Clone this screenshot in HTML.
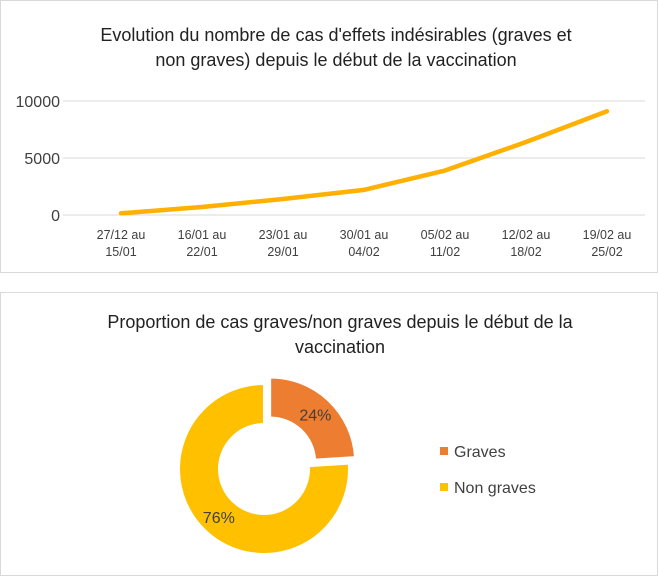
<!DOCTYPE html>
<html><head><meta charset="utf-8"><style>
body{margin:0;background:#fff;width:658px;height:577px;overflow:hidden;font-family:"Liberation Sans",sans-serif;}
svg text{font-family:"Liberation Sans",sans-serif;}
</style></head><body>
<svg id="s" width="658" height="577">
<rect x="0.5" y="0.5" width="657" height="272" fill="#fff" stroke="#d9d9d9"/>
<rect x="0.5" y="292.5" width="657" height="283" fill="#fff" stroke="#d9d9d9"/>
<g font-size="18" fill="#222" text-anchor="middle">
<text x="336" y="41">Evolution du nombre de cas d'effets indésirables (graves et</text>
<text x="336" y="66">non graves) depuis le début de la vaccination</text></g>
<g id="grid"></g><g id="xl"></g><g id="line"></g>
<g font-size="18" fill="#222" text-anchor="middle">
<text x="340" y="328">Proportion de cas graves/non graves depuis le début de la</text>
<text x="340" y="353">vaccination</text></g>
<g id="donut"></g>
<g id="legend"></g>
</svg>
<script>
const categories=[["27/12 au","15/01"],["16/01 au","22/01"],["23/01 au","29/01"],["30/01 au","04/02"],["05/02 au","11/02"],["12/02 au","18/02"],["19/02 au","25/02"]];
const cases=[150,700,1400,2200,3900,6400,9100];
const yTicks=[0,5000,10000];
const sliceLabels=["Graves","Non graves"];
const sliceValues=[24,76];
const sliceColors=["#ed7d31","#ffc000"];
const NS="http://www.w3.org/2000/svg";
function mk(t,a,p){const e=document.createElementNS(NS,t);for(const k in a)e.setAttribute(k,a[k]);p.appendChild(e);return e;}
const y=v=>215-v*0.0114;
const x=i=>121+i*81;
const grid=document.getElementById('grid');
yTicks.forEach(v=>{
 const l=mk('line',{x1:63,x2:645,y1:y(v),y2:y(v),stroke:'#d9d9d9','stroke-width':1},grid);
 
 
 const t=mk('text',{x:60,y:y(v)+6,'text-anchor':'end','font-size':16,fill:'#404040'},grid);
 t.textContent=v;
 
 
});
const xl=document.getElementById('xl');
categories.forEach((c,i)=>{
 c.forEach((s,j)=>{
  const t=mk('text',{x:x(i),y:239+j*17,'text-anchor':'middle','font-size':12.5,fill:'#404040'},xl);
  t.textContent=s;
  
  
 });
});
const pl=mk('polyline',{points:cases.map((v,i)=>x(i)+','+y(v)).join(' '),fill:'none',stroke:'#ffb000','stroke-width':4.5,'stroke-linejoin':'round','stroke-linecap':'round'},document.getElementById('line'));


const dg=document.getElementById('donut');
const cx=264,cy=469,R=85,r=45,tot=sliceValues.reduce((a,b)=>a+b,0);
let a0=0;
sliceValues.forEach((v,i)=>{
 const a1=a0+v/tot*2*Math.PI, m=(a0+a1)/2;
 const off=i==0?9:0, ox=cx+off*Math.sin(m), oy=cy-off*Math.cos(m);
 const P=(rad,a)=>(ox+rad*Math.sin(a))+','+(oy-rad*Math.cos(a));
 const lg=(a1-a0)>Math.PI?1:0;
 const p=mk('path',{d:`M${P(R,a0)}A${R},${R} 0 ${lg} 1 ${P(R,a1)}L${P(r,a1)}A${r},${r} 0 ${lg} 0 ${P(r,a0)}Z`,fill:sliceColors[i],stroke:'#fff','stroke-width':2},dg);
 
 
 const lr=66;
 const t=mk('text',{x:ox+lr*Math.sin(m),y:oy-lr*Math.cos(m)+6,'text-anchor':'middle','font-size':16,fill:'#404040'},dg);
 t.textContent=v+'%';
 
 
 a0=a1;
});
const lgd=document.getElementById('legend');
sliceLabels.forEach((s,i)=>{
 const g=mk('g',{},lgd);
 
 
 mk('rect',{x:440,y:447+i*36,width:8,height:8,fill:sliceColors[i]},g);
 const t=mk('text',{x:454,y:457+i*36,'font-size':16,fill:'#404040'},g);
 t.textContent=s;
});
</script>
</body></html>
